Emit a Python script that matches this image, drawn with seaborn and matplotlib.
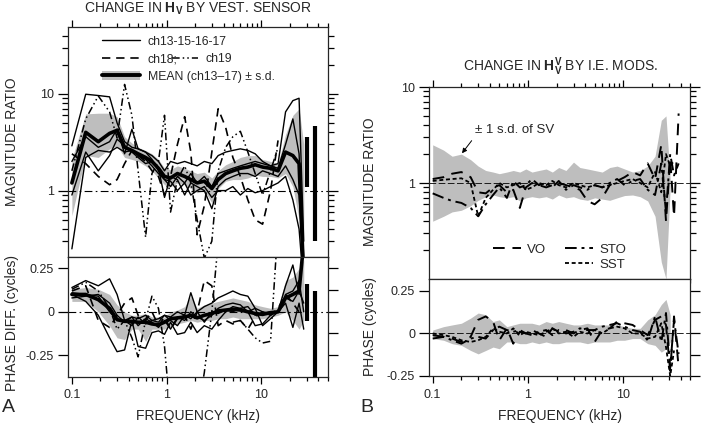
import numpy as np
import matplotlib
matplotlib.use("Agg")
import matplotlib.pyplot as plt
import seaborn as sns
from matplotlib.lines import Line2D
from matplotlib.patches import Patch
from matplotlib.ticker import FixedLocator, NullFormatter

nan = np.nan

# ---- panel A: change in Hv by vestibular sensor ----
freq_a = [0.1, 0.14, 0.19, 0.25, 0.3, 0.36, 0.43, 0.5, 0.6, 0.7, 0.82, 0.95, 1.1, 1.3, 1.55, 1.8,
          2.1, 2.5, 3.0, 3.5, 4.2, 5.0, 6.0, 7.2, 8.6, 10.3, 12.5, 15, 18, 21.5, 25, 28]

mag_mean = [1.2, 4.0, 3.2, 3.9, 4.2, 2.8, 2.6, 2.4, 2.2, 2.0, 1.7, 1.4, 1.35, 1.5, 1.4, 1.3,
            1.2, 1.25, 1.05, 1.3, 1.5, 1.6, 1.7, 1.75, 1.85, 1.75, 1.7, 1.6, 2.5, 2.3, 1.9, 0.12]
mag_sd_lo = [0.55, 2.3, 2.2, 2.7, 2.9, 2.2, 2.1, 2.0, 1.8, 1.6, 1.35, 1.15, 1.1, 1.2, 1.15, 1.05,
             0.95, 1.0, 0.75, 1.05, 1.25, 1.3, 1.3, 1.35, 1.45, 1.4, 1.4, 1.35, 1.5, 1.1, 0.5, 0.15]
mag_sd_hi = [2.1, 6.2, 6.3, 6.3, 5.8, 3.6, 3.1, 2.8, 2.6, 2.4, 2.1, 1.7, 1.65, 1.8, 1.7, 1.6,
             1.5, 1.55, 1.35, 1.6, 1.85, 2.0, 2.2, 2.3, 2.3, 2.1, 2.0, 1.9, 3.8, 6.0, 7.0, 3.0]
mag_ch13 = [2.9, 9.9, 9.6, 9.3, 5.0, 3.2, 2.8, 2.7, 2.5, 2.3, 2.0, 1.6, 2.0, 1.9, 2.0, 1.9,
            1.8, 2.0, 1.9, 2.3, 2.5, 2.6, 2.7, 2.6, 2.4, 2.0, 1.8, 1.9, 6.5, 8.5, 9.0, 0.3]
mag_ch15 = [2.0, 3.6, 2.8, 3.2, 4.3, 2.4, 4.3, 2.7, 2.5, 2.1, 1.6, 1.3, 1.1, 1.4, 1.2, 1.5,
            1.2, 1.4, 1.1, 1.5, 1.6, 1.7, 1.8, 1.9, 2.0, 1.9, 1.8, 1.7, 3.0, 5.5, 2.4, 0.2]
mag_ch16 = [0.9, 2.5, 1.6, 2.3, 3.4, 2.9, 2.5, 2.2, 1.9, 2.0, 1.7, 0.85, 1.4, 1.3, 0.9, 1.2,
            1.1, 1.0, 0.65, 1.1, 1.3, 1.4, 1.5, 1.5, 1.4, 1.6, 1.5, 1.4, 1.8, 1.3, 0.9, 0.15]
mag_ch17 = [0.25, 2.2, 2.6, 2.5, 2.8, 2.5, 2.6, 2.3, 2.1, 1.8, 1.5, 1.3, 1.25, 1.0, 1.2, 0.9,
            1.0, 1.1, 0.85, 1.0, 1.0, 1.1, 0.9, 1.05, 0.95, 1.0, 1.1, 1.2, 1.4, 0.8, 0.4, 0.1]
mag_ch18 = [2.4, 1.9, 1.4, 1.15, 1.3, 1.9, 2.6, 2.3, 2.0, 1.6, 1.4, 0.9, 1.4, 3.0, 5.8, 2.5,
            0.35, 0.7, 2.5, 7.0, 4.5, 2.2, 1.4, 0.8, 0.5, 0.45, 1.0, 3.3, nan, nan, nan, nan]
mag_ch19 = [1.6, 5.5, 9.5, 6.5, 3.5, 12.5, 6.0, 1.6, 0.33, 1.5, 2.0, 6.0, 0.6, 1.3, 1.8, 1.2,
            0.5, 0.2, 0.3, 1.6, 2.8, 3.6, 4.1, 2.5, 1.5, 0.9, 1.6, 2.8, nan, nan, nan, nan]

ph_mean = [0.10, 0.10, 0.07, 0.02, -0.045, -0.055, -0.055, -0.06, -0.06, -0.07, -0.075, -0.06,
           -0.04, -0.035, -0.03, -0.02, -0.035, -0.02, -0.01, 0.005, 0.01, 0.015, 0.01, 0.0,
           -0.01, -0.015, -0.005, 0.0, 0.08, 0.1, 0.12, 0.4]
ph_sd_lo = [0.06, 0.06, 0.0, -0.08, -0.15, -0.16, -0.1, -0.1, -0.17, -0.1, -0.1, -0.1, -0.08,
            -0.07, -0.06, -0.05, -0.06, -0.05, -0.05, -0.04, -0.04, -0.03, -0.04, -0.04, -0.04,
            -0.04, -0.03, -0.02, 0.0, -0.05, -0.1, -0.05]
ph_sd_hi = [0.13, 0.14, 0.13, 0.1, 0.04, 0.0, -0.02, -0.02, -0.01, -0.03, -0.03, -0.03, 0.0,
            0.01, 0.03, 0.09, 0.02, 0.04, 0.05, 0.06, 0.07, 0.08, 0.07, 0.06, 0.04, 0.03, 0.02,
            0.03, 0.18, 0.2, 0.25, 0.3]
ph_ch13 = [0.14, 0.18, 0.15, 0.19, 0.1, -0.05, -0.03, -0.04, -0.02, -0.05, -0.04, -0.02, -0.03,
           0.0, -0.02, 0.11, 0.0, 0.03, 0.05, 0.08, 0.1, 0.12, 0.1, 0.09, 0.02, -0.08, -0.04,
           0.0, 0.15, 0.27, 0.1, 0.4]
ph_ch15 = [0.1, 0.06, -0.02, -0.15, -0.23, -0.22, -0.05, -0.2, -0.21, -0.12, -0.11, -0.13, -0.06,
           -0.13, -0.12, -0.06, -0.12, -0.08, -0.1, -0.05, 0.0, 0.03, 0.02, 0.0, -0.08, -0.07,
           -0.02, 0.0, 0.05, -0.09, 0.05, -0.1]
ph_ch16 = [0.08, 0.09, 0.1, 0.05, -0.02, -0.06, -0.03, -0.08, -0.04, -0.06, -0.09, -0.05, -0.1,
           -0.03, -0.05, 0.0, -0.03, -0.05, -0.02, 0.02, 0.04, 0.05, 0.04, 0.0, 0.02, 0.0, -0.01,
           0.0, 0.1, 0.12, 0.18, 0.0]
ph_ch17 = [0.11, 0.1, 0.09, 0.0, -0.05, -0.05, -0.08, -0.03, -0.07, -0.05, -0.06, -0.02, -0.05,
           -0.08, -0.02, -0.04, 0.0, -0.06, 0.0, -0.01, 0.01, 0.0, 0.02, 0.03, -0.02, -0.01, 0.0,
           0.0, 0.08, 0.06, 0.12, 0.05]
ph_ch18 = [0.12, 0.15, -0.05, -0.09, -0.02, 0.05, 0.08, -0.02, -0.05, 0.0, -0.08, -0.03, -0.1,
           -0.04, -0.02, -0.1, 0.0, 0.18, 0.15, -0.08, -0.05, -0.07, -0.05, -0.1, -0.03, 0.0,
           -0.02, 0.02, 0.1, 0.05, 0.0, nan]
ph_ch19 = [0.13, 0.17, 0.12, 0.02, -0.1, -0.05, -0.15, -0.26, -0.05, 0.09, 0.02, -0.2, -0.6,
           nan, nan, nan, -0.6, -0.35, 0.0, 0.4, nan, -0.06, -0.05, -0.1, -0.15, -0.18, -0.17,
           0.5, nan, nan, nan, nan]

# last mean +/- s.d. points drawn as bars
bar_f = [30.5, 37]
bar_mag_lo = [1.1, 0.3]
bar_mag_hi = [3.6, 4.6]
bar_ph_lo = [-0.055, -0.5]
bar_ph_hi = [0.16, 0.12]

# ---- panel B: change in HvV by inner-ear modifications ----
freq_b = [0.1, 0.13, 0.16, 0.2, 0.25, 0.3, 0.36, 0.43, 0.5, 0.6, 0.7, 0.82, 0.95, 1.1, 1.3, 1.55,
          1.8, 2.1, 2.5, 3.0, 3.5, 4.2, 5.0, 6.0, 7.2, 8.6, 10.3, 12.5, 15, 18, 21.5, 25, 28,
          31, 34, 38]
sv_mag_hi = [2.5, 2.2, 1.9, 2.0, 1.75, 1.5, 1.35, 1.3, 1.25, 1.3, 1.35, 1.3, 1.4, 1.3, 1.35,
             1.4, 1.3, 1.45, 1.35, 1.65, 1.45, 1.4, 1.35, 1.3, 1.45, 1.5, 1.4, 1.3, 1.35, 1.5,
             1.9, 4.5, 5.0, 1.1, nan, nan]
sv_mag_lo = [0.4, 0.45, 0.5, 0.52, 0.58, 0.66, 0.72, 0.75, 0.72, 0.7, 0.72, 0.65, 0.7, 0.72,
             0.7, 0.72, 0.68, 0.75, 0.7, 0.72, 0.68, 0.66, 0.7, 0.68, 0.66, 0.7, 0.74, 0.75,
             0.72, 0.65, 0.45, 0.15, 0.1, 0.9, nan, nan]
mag_vo = [1.1, 1.15, 1.25, 1.3, 1.15, 0.8, 0.78, 0.9, 0.95, 0.8, 0.85, 0.55, 0.9, 1.0, 0.95,
          0.9, 0.95, 1.0, 0.95, 0.9, 0.85, 0.65, 0.6, 0.7, 0.95, 1.05, 1.15, 1.3, 1.2, 1.6, 1.1,
          2.5, 0.4, 1.8, 0.45, 5.3]
mag_sto = [0.78, 0.7, 0.65, 0.62, 0.55, 0.45, 0.6, 0.75, 0.9, 0.7, 1.05, 0.9, 0.95, 1.1, 0.95,
           1.0, 0.9, 1.05, 0.85, 0.95, 0.9, 0.85, 0.95, 0.9, 1.0, 1.1, 0.95, 1.05, 1.1, 0.85,
           0.75, 1.6, 0.5, 2.0, 1.2, 1.6]
mag_sst = [1.05, 1.08, 1.1, 1.12, 1.0, 0.45, 0.7, 0.85, 1.0, 0.9, 0.95, 1.0, 0.85, 0.9, 1.0,
           0.95, 1.05, 0.95, 0.9, 1.0, 0.95, 0.9, 0.95, 0.9, 0.95, 1.0, 1.05, 1.1, 1.0, 0.9, 1.3,
           0.8, 2.0, 1.5, 1.7, nan]
sv_ph_hi = [0.02, 0.04, 0.05, 0.06, 0.09, 0.12, 0.11, 0.07, 0.08, 0.04, 0.05, 0.06, 0.06, 0.06,
            0.05, 0.07, 0.06, 0.07, 0.06, 0.05, 0.05, 0.06, 0.05, 0.05, 0.05, 0.05, 0.04, 0.03,
            0.03, 0.08, 0.11, 0.17, 0.2, 0.11, nan, nan]
sv_ph_lo = [-0.03, -0.04, -0.06, -0.07, -0.1, -0.12, -0.1, -0.08, -0.09, -0.05, -0.05, -0.06,
            -0.06, -0.05, -0.06, -0.05, -0.06, -0.06, -0.05, -0.05, -0.05, -0.06, -0.05, -0.05,
            -0.05, -0.04, -0.04, -0.03, -0.03, -0.06, -0.07, -0.11, -0.09, -0.05, nan, nan]
ph_vo = [-0.01, -0.02, -0.03, -0.05, -0.02, 0.08, 0.1, 0.07, -0.04, 0.03, -0.06, 0.01, 0.0, 0.02,
         0.0, -0.02, 0.03, 0.01, 0.02, 0.0, 0.02, 0.03, -0.05, 0.02, 0.03, 0.07, 0.06, 0.05, 0.02,
         -0.01, 0.08, 0.1, 0.05, -0.22, 0.1, -0.2]
ph_sto = [-0.03, -0.02, -0.04, -0.06, -0.03, -0.02, -0.03, 0.02, 0.04, 0.02, 0.01, 0.02, 0.0,
          -0.01, 0.01, 0.02, -0.01, 0.02, 0.0, 0.01, 0.03, 0.02, 0.02, 0.04, 0.05, 0.06, 0.04,
          0.02, 0.01, -0.04, 0.1, -0.05, 0.12, -0.2, 0.08, -0.12]
ph_sst = [0.0, -0.01, -0.02, -0.04, -0.05, -0.04, -0.02, 0.03, 0.01, 0.0, 0.03, -0.01, 0.01, 0.0,
          -0.01, 0.01, 0.03, 0.0, 0.01, -0.02, 0.01, 0.0, 0.02, 0.0, 0.03, 0.04, 0.03, 0.0, 0.0,
          -0.03, -0.02, 0.06, -0.08, -0.25, -0.1, nan]

sns.set_style("ticks")
plt.rcParams["font.family"] = ["Liberation Sans", "DejaVu Sans"]
plt.rcParams["mathtext.fontset"] = "custom"
plt.rcParams["mathtext.rm"] = "Liberation Sans"
plt.rcParams["mathtext.bf"] = "Liberation Sans:bold"
plt.rcParams["axes.linewidth"] = 0.9

GRAY = "#bebebe"
W, H = 702, 426
fig = plt.figure(figsize=(W / 100, H / 100), dpi=100)


def box(left, top, right, bottom):
    return fig.add_axes([left / W, 1 - bottom / H, (right - left) / W, (bottom - top) / H])


minor_x = [m * d for d in (0.1, 1, 10) for m in range(2, 10)]
minor_y = [m * d for d in (0.1, 1, 10) for m in range(2, 10)]


def setup(ax, xlim, magnitude):
    ax.set_xscale("log")
    ax.set_xlim(*xlim)
    ax.xaxis.set_major_locator(FixedLocator([0.1, 1, 10]))
    ax.xaxis.set_minor_locator(FixedLocator(minor_x))
    ax.xaxis.set_minor_formatter(NullFormatter())
    ax.tick_params(axis="x", which="major", length=5, width=0.9, direction="out", color="k")
    ax.tick_params(axis="x", which="minor", length=3, width=0.9, direction="out", color="k")
    ax.tick_params(axis="y", which="major", length=7, width=0.9, direction="out", color="k",
                   right=True, labelsize=9, pad=3)
    ax.tick_params(axis="y", which="minor", length=4.5, width=0.9, direction="out", color="k",
                   right=True)
    if magnitude:
        ax.set_yscale("log")
        ax.yaxis.set_major_locator(FixedLocator([1, 10]))
        ax.set_yticklabels(["1", "10"])
        ax.yaxis.set_minor_locator(FixedLocator(minor_y))
        ax.yaxis.set_minor_formatter(NullFormatter())
        ax.tick_params(axis="x", which="both", top=True, bottom=True, labelbottom=False)
    else:
        ax.yaxis.set_major_locator(FixedLocator([-0.25, 0, 0.25]))
        ax.set_yticklabels(["-0.25", "0", "0.25"])
        ax.yaxis.set_minor_locator(FixedLocator([-0.125, 0.125]))
        ax.tick_params(axis="y", which="minor", left=False, right=True, length=7)
        ax.tick_params(axis="x", which="both", top=False, bottom=True, labelsize=9, pad=4)
        ax.set_xticklabels(["0.1", "1", "10"])
    ax.set_xlabel("")
    ax.set_ylabel("")


# ---------------- panel A ----------------
axA1 = box(68, 27, 328, 257)
axA2 = box(68, 257, 328, 377)
for ax in (axA1, axA2):
    ax.set_xscale("log")

axA1.set_yscale("log")
axA1.fill_between(freq_a, mag_sd_lo, mag_sd_hi, color=GRAY, lw=0)
for ys in (mag_ch13, mag_ch15, mag_ch16, mag_ch17):
    sns.lineplot(x=freq_a, y=ys, ax=axA1, color="k", lw=1.0, sort=False)
axA1.plot(freq_a, mag_ch18, color="k", lw=1.2, dashes=(5, 3.5))
axA1.plot(freq_a, mag_ch19, color="k", lw=1.1, dashes=(5, 2, 1, 2, 1, 2))
sns.lineplot(x=freq_a, y=mag_mean, ax=axA1, color="k", lw=2.6, sort=False)
axA1.vlines(bar_f, bar_mag_lo, bar_mag_hi, color="k", lw=3)
axA1.axhline(1, color="k", lw=0.8, dashes=(7, 3, 1.5, 3))
axA1.set_ylim(0.206, 49)
setup(axA1, (0.091, 50.5), True)

axA2.fill_between(freq_a, ph_sd_lo, ph_sd_hi, color=GRAY, lw=0)
for ys in (ph_ch13, ph_ch15, ph_ch16, ph_ch17):
    sns.lineplot(x=freq_a, y=ys, ax=axA2, color="k", lw=1.0, sort=False)
axA2.plot(freq_a, ph_ch18, color="k", lw=1.2, dashes=(5, 3.5))
axA2.plot(freq_a, ph_ch19, color="k", lw=1.1, dashes=(5, 2, 1, 2, 1, 2))
sns.lineplot(x=freq_a, y=ph_mean, ax=axA2, color="k", lw=2.6, sort=False)
axA2.vlines(bar_f, bar_ph_lo, bar_ph_hi, color="k", lw=3)
axA2.axhline(0, color="k", lw=0.8, dashes=(7, 3, 1.5, 3))
axA2.set_ylim(-0.376, 0.316)
setup(axA2, (0.091, 50.5), False)

h_solid = Line2D([], [], color="k", lw=1.0)
h_dash = Line2D([], [], color="k", lw=1.2, dashes=(5, 3.5))
h_dd = Line2D([], [], color="k", lw=1.1, dashes=(5, 2, 1, 2, 1, 2))
h_mean = (Patch(fc=GRAY, ec="none"), Line2D([], [], color="k", lw=2.8))
leg1 = axA1.legend([h_solid, h_dash, h_mean], ["ch13-15-16-17", "ch18;", "MEAN (ch13\u201317) \u00b1 s.d."],
                   loc="upper left", bbox_to_anchor=(0.13, 0.962), frameon=False, fontsize=8.8,
                   handlelength=3.1, handletextpad=0.65, labelspacing=0.45, borderpad=0,
                   borderaxespad=0)
axA1.add_artist(leg1)
axA1.legend([h_dd], ["ch19"], loc="upper left", bbox_to_anchor=(0.40, 0.886), frameon=False,
            fontsize=8.8, handlelength=2.1, handletextpad=0.65, borderpad=0, borderaxespad=0)

# ---------------- panel B ----------------
axB1 = box(429, 87, 690, 279)
axB2 = box(429, 279, 690, 376)
for ax in (axB1, axB2):
    ax.set_xscale("log")

axB1.set_yscale("log")
axB1.fill_between(freq_b, sv_mag_lo, sv_mag_hi, color=GRAY, lw=0)
axB1.axhline(1, color="k", lw=0.6, dashes=(8, 3))
axB1.plot(freq_b, mag_vo, color="k", lw=1.4, dashes=(6, 4))
axB1.plot(freq_b, mag_sto, color="k", lw=1.4, dashes=(6, 2.5, 1.5, 2.5))
axB1.plot(freq_b, mag_sst, color="k", lw=1.3, dashes=(2.2, 1.5))
axB1.set_ylim(0.1, 10)
setup(axB1, (0.0915, 50), True)

axB2.fill_between(freq_b, sv_ph_lo, sv_ph_hi, color=GRAY, lw=0)
axB2.axhline(0, color="k", lw=0.6, dashes=(8, 3))
axB2.plot(freq_b, ph_vo, color="k", lw=1.4, dashes=(6, 4))
axB2.plot(freq_b, ph_sto, color="k", lw=1.4, dashes=(6, 2.5, 1.5, 2.5))
axB2.plot(freq_b, ph_sst, color="k", lw=1.3, dashes=(2.2, 1.5))
axB2.set_ylim(-0.25, 0.32)
setup(axB2, (0.0915, 50), False)

h_vo = Line2D([], [], color="k", lw=1.4, dashes=(6, 4))
h_sto = Line2D([], [], color="k", lw=1.4, dashes=(6, 2.5, 1.5, 2.5))
h_sst = Line2D([], [], color="k", lw=1.3, dashes=(2.2, 1.5))
h_blank = Line2D([], [], alpha=0)
axB1.legend([h_vo, h_blank, h_sto, h_sst], ["VO", "", "STO", "SST"], ncol=2,
            loc="upper left", bbox_to_anchor=(0.245, 0.185), frameon=False, fontsize=9.5,
            handlelength=2.1, handletextpad=0.5, labelspacing=0.2, columnspacing=1.4,
            borderpad=0, borderaxespad=0)

axB1.annotate("\u00b1 1 s.d. of SV", xy=(0.203, 2.04), xytext=(0.278, 3.54), ha="left",
              va="center", fontsize=9.5,
              arrowprops=dict(arrowstyle="-|>", color="k", lw=0.7, mutation_scale=7,
                              shrinkA=1, shrinkB=0, relpos=(0.0, 0.0)))

# ---------------- text ----------------
fig.text(198 / W, 1 - 9 / H, r"CHANGE IN $\mathbf{H_V}$ BY VEST. SENSOR", ha="center",
         va="center", fontsize=10)
fig.text(561 / W, 1 - 67 / H, r"CHANGE IN $\mathbf{H_V^V}$ BY I.E. MODS.", ha="center",
         va="center", fontsize=10)
fig.text(12 / W, 1 - 142 / H, "MAGNITUDE RATIO", rotation=90, ha="center", va="center", fontsize=10)
fig.text(12 / W, 1 - 323 / H, "PHASE DIFF. (cycles)", rotation=90, ha="center", va="center",
         fontsize=10)
fig.text(370 / W, 1 - 182 / H, "MAGNITUDE RATIO", rotation=90, ha="center", va="center",
         fontsize=10)
fig.text(370 / W, 1 - 327 / H, "PHASE (cycles)", rotation=90, ha="center", va="center", fontsize=10)
fig.text(198 / W, 1 - 416 / H, "FREQUENCY (kHz)", ha="center", va="center", fontsize=10)
fig.text(560 / W, 1 - 416 / H, "FREQUENCY (kHz)", ha="center", va="center", fontsize=10)
fig.text(8 / W, 1 - 408 / H, "A", ha="center", va="center", fontsize=14)
fig.text(367 / W, 1 - 408 / H, "B", ha="center", va="center", fontsize=14)

fig.savefig("out.png", dpi=100)
